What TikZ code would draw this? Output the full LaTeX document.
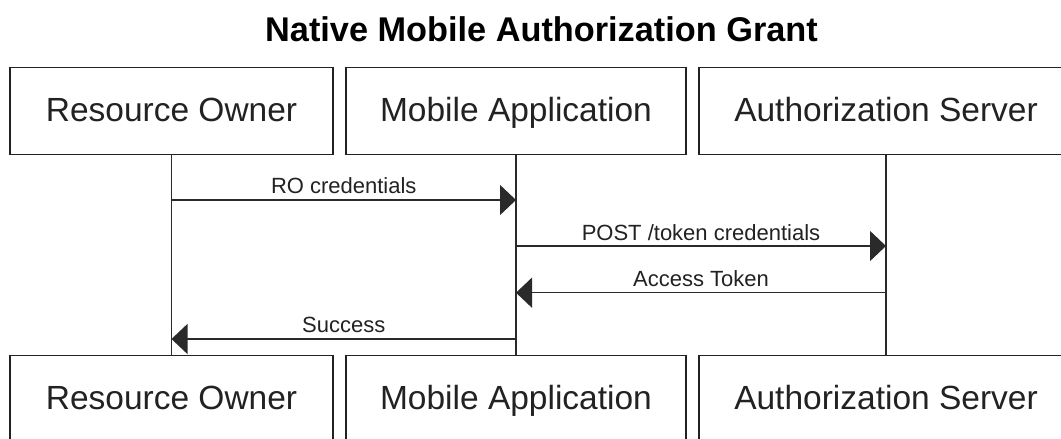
\documentclass[tikz,border=0pt]{standalone}
\usepackage{fontspec}
\setmainfont{Liberation Sans}
\usetikzlibrary{arrows.meta,calc}
\definecolor{ink}{HTML}{222222}
\definecolor{wire}{HTML}{2A2A2A}
\begin{document}
\begin{tikzpicture}[x=1pt,y=-1pt,
  actor/.style={draw=ink,line width=1.4pt,fill=white,minimum height=87pt,
    inner sep=0pt,text=ink,font=\fontsize{33.5}{40}\selectfont,
    text height=24pt,text depth=4pt},
  life/.style={draw=wire,line width=1.3pt},
  msg/.style={draw=wire,line width=1.3pt,-{Triangle[length=16pt,width=30pt]}},
  lbl/.style={anchor=base,text=ink,font=\fontsize{22}{26}\selectfont,inner sep=0pt}]
\useasboundingbox (0,0) rectangle (1061,439);
\fill[white] (0,0) rectangle (1061,439);

% title
\node[anchor=base,inner sep=0pt,text=black,font=\fontsize{34.3}{40}\bfseries\selectfont]
  (title) at (541.5,41) {Native Mobile Authorization Grant};

% participants (top row)
\node[actor,minimum width=323pt] (ro)  at (171.5,111) {Resource Owner};
\node[actor,minimum width=340pt] (app) at (516,111)   {Mobile Application};
\node[actor,minimum width=374pt] (as)  at (886,111)   {Authorization Server};

% participants (bottom row)
\node[actor,minimum width=323pt] (rob)  at (171.5,399.2) {Resource Owner};
\node[actor,minimum width=340pt] (appb) at (516,399.2)   {Mobile Application};
\node[actor,minimum width=374pt] (asb)  at (886,399.2)   {Authorization Server};

% lifelines
\draw[life] (ro.south) -- (rob.north);
\draw[life] (app.south) -- (appb.north);
\draw[life] (as.south) -- (asb.north);

% message rows
\coordinate (r1) at (0,200);
\coordinate (r2) at (0,246);
\coordinate (r3) at (0,292.7);
\coordinate (r4) at (0,339);

\coordinate (ro1)  at (ro.south |- r1);
\coordinate (app1) at (app.south |- r1);
\coordinate (app2) at (app.south |- r2);
\coordinate (as2)  at (as.south |- r2);
\coordinate (as3)  at (as.south |- r3);
\coordinate (app3) at (app.south |- r3);
\coordinate (app4) at (app.south |- r4);
\coordinate (ro4)  at (ro.south |- r4);

\draw[msg] (ro1) -- (app1);
\draw[msg] (app2) -- (as2);
\draw[msg] (as3) -- (app3);
\draw[msg] (app4) -- (ro4);

\node[lbl] (l1) at ($(ro1)!0.5!(app1)+(0,-6.3)$) {RO credentials};
\node[lbl] (l2) at ($(app2)!0.5!(as2)+(0,-5.8)$) {POST /token credentials};
\node[lbl] (l3) at ($(as3)!0.5!(app3)+(0,-6.5)$) {Access Token};
\node[lbl] (l4) at ($(app4)!0.5!(ro4)+(0,-6.5)$) {Success};
\end{tikzpicture}
\end{document}
